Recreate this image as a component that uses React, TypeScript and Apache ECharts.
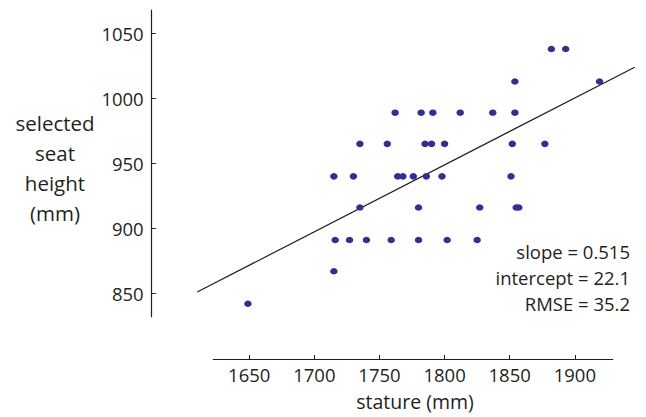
import React, { useEffect, useRef } from "react";
import * as echarts from "echarts";

const stature = [
  1649, 1715, 1716, 1727, 1740, 1759, 1780, 1802, 1825, 1735, 1780, 1827, 1855, 1857,
  1715, 1730, 1764, 1768, 1776, 1786, 1798, 1851, 1735, 1756, 1785, 1790, 1800, 1852,
  1877, 1762, 1782, 1791, 1812, 1837, 1854, 1854, 1919, 1882, 1893,
];
const seatHeight = [
  842, 867, 891, 891, 891, 891, 891, 891, 891, 916, 916, 916, 916, 916,
  940, 940, 940, 940, 940, 940, 940, 940, 965, 965, 965, 965, 965, 965,
  965, 989, 989, 989, 989, 989, 989, 1013, 1013, 1038, 1038,
];
const fitX = [1610, 1946];
const fitY = [851, 1024];
const xTicks = [1650, 1700, 1750, 1800, 1850, 1900];
const yTicks = [850, 900, 950, 1000, 1050];
const statsLines = ["slope = 0.515", "intercept = 22.1", "RMSE = 35.2"];
const yTitle = "selected\nseat\nheight\n(mm)";
const xTitle = "stature (mm)";

const FONT = '"Open Sans", "Noto Sans", sans-serif';
const INK = "#231f20";

export default function App() {
  const ref = useRef<HTMLDivElement>(null);
  useEffect(() => {
    if (!ref.current) return;
    const chart = echarts.init(ref.current, undefined, { renderer: "svg" });
    const pts = stature.map((x, i) => [x, seatHeight[i]]);
    const fit = fitX.map((x, i) => [x, fitY[i]]);
    const plain = (v: number) => String(v);
    chart.setOption({
      animation: false,
      backgroundColor: "#ffffff",
      grid: [
        { left: 213.3, right: 646 - 612.7, top: 10, bottom: 417 - 316.7 },
        { left: 197.2, right: 646 - 634.7, top: 10, bottom: 417 - 316.7 },
      ],
      xAxis: [
        {
          type: "value",
          gridIndex: 0,
          min: 1622.4,
          max: 1929.1,
          offset: 42.3,
          splitLine: { show: false },
          axisLine: { show: true, lineStyle: { color: INK, width: 1.2 } },
          axisTick: {
            show: true,
            inside: true,
            length: 4,
            customValues: xTicks,
            lineStyle: { color: INK, width: 1 },
          },
          axisLabel: {
            customValues: xTicks,
            formatter: plain,
            color: INK,
            fontFamily: FONT,
            fontSize: 18.5,
            margin: 6,
          },
        },
        {
          type: "value",
          gridIndex: 1,
          min: 1610,
          max: 1946,
          show: false,
        },
      ],
      yAxis: [
        {
          type: "value",
          gridIndex: 0,
          min: 832,
          max: 1068,
          offset: 61.6,
          splitLine: { show: false },
          axisLine: { show: true, lineStyle: { color: INK, width: 1.2 } },
          axisTick: {
            show: true,
            inside: true,
            length: 4,
            customValues: yTicks,
            lineStyle: { color: INK, width: 1 },
          },
          axisLabel: {
            customValues: yTicks,
            formatter: plain,
            color: INK,
            fontFamily: FONT,
            fontSize: 18.5,
            margin: 8,
          },
        },
        {
          type: "value",
          gridIndex: 1,
          min: 832,
          max: 1068,
          show: false,
        },
      ],
      series: [
        {
          type: "line",
          xAxisIndex: 1,
          yAxisIndex: 1,
          data: fit,
          showSymbol: false,
          symbol: "none",
          lineStyle: { color: INK, width: 1.2 },
          z: 1,
        },
        {
          type: "scatter",
          xAxisIndex: 0,
          yAxisIndex: 0,
          data: pts,
          symbol: "circle",
          symbolSize: [7.5, 6.5],
          itemStyle: { color: "#2e3192", opacity: 1 },
          z: 2,
        },
      ],
      graphic: [
        {
          type: "text",
          x: 55,
          y: 168,
          style: {
            text: yTitle,
            fill: INK,
            fontFamily: FONT,
            fontSize: 20.5,
            lineHeight: 30,
            align: "center",
            verticalAlign: "middle",
          },
        },
        {
          type: "text",
          x: 415,
          y: 401,
          style: {
            text: xTitle,
            fill: INK,
            fontFamily: FONT,
            fontSize: 19.5,
            align: "center",
            verticalAlign: "middle",
          },
        },
        {
          type: "text",
          x: 630,
          y: 277,
          style: {
            text: statsLines.join("\n"),
            fill: INK,
            fontFamily: FONT,
            fontSize: 18.5,
            lineHeight: 26,
            align: "right",
            verticalAlign: "middle",
          },
        },
      ],
    });
    return () => chart.dispose();
  }, []);
  return (
    <div
      ref={ref}
      style={{ position: "fixed", left: 0, top: 0, width: 646, height: 417 }}
    />
  );
}
